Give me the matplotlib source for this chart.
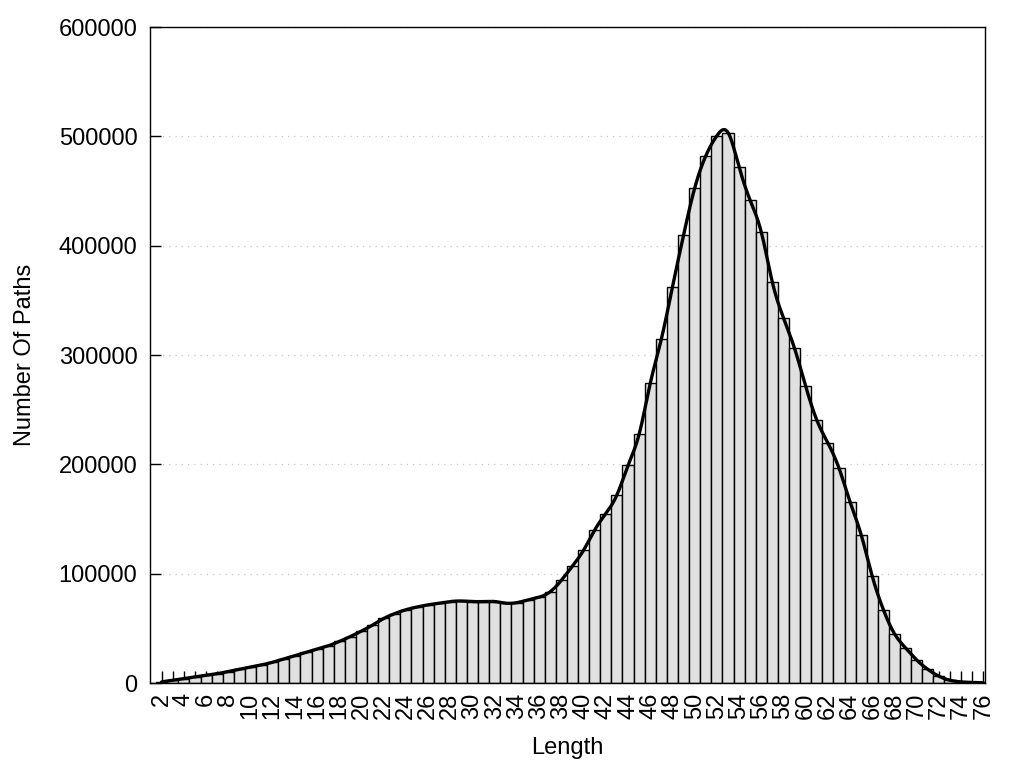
import numpy as np
import matplotlib
matplotlib.use("Agg")
import matplotlib.pyplot as plt
from matplotlib.ticker import FixedLocator

lengths = list(range(2, 77))
counts = [
    1000, 2500, 4000, 5500, 7000, 8500, 10500, 12500, 14500, 16500,      # 2-11
    19000, 22000, 25000, 28000, 31000, 34000, 38000, 42500, 47500, 53000, # 12-21
    59000, 63500, 67000, 69500, 71500, 73000, 74500, 75000, 74500, 74500, # 22-31
    74500, 73000, 73500, 76000, 78500, 83500, 94000, 107000, 121500, 140000, # 32-41
    155000, 172000, 199000, 227500, 274000, 314500, 362000, 409500, 452500, 482000, # 42-51
    500500, 503500, 472000, 441500, 412500, 366500, 334000, 306000, 271500, 240500, # 52-61
    219500, 196500, 165500, 135500, 97500, 67000, 45000, 32000, 21000, 12500, # 62-71
    6200, 2500, 1000, 500, 200,                                            # 72-76
]
x_tick_labels = [str(v) for v in range(2, 77, 2)]

def natural_cubic_spline(x, y, xs):
    x = np.asarray(x, float)
    y = np.asarray(y, float)
    n = len(x)
    h = np.diff(x)
    A = np.zeros((n, n))
    b = np.zeros(n)
    A[0, 0] = 1.0
    A[-1, -1] = 1.0
    for i in range(1, n - 1):
        A[i, i - 1] = h[i - 1]
        A[i, i] = 2 * (h[i - 1] + h[i])
        A[i, i + 1] = h[i]
        b[i] = 3 * ((y[i + 1] - y[i]) / h[i] - (y[i] - y[i - 1]) / h[i - 1])
    c = np.linalg.solve(A, b)
    bb = (y[1:] - y[:-1]) / h - h * (2 * c[:-1] + c[1:]) / 3
    d = (c[1:] - c[:-1]) / (3 * h)
    idx = np.clip(np.searchsorted(x, xs) - 1, 0, n - 2)
    dx = xs - x[idx]
    return y[idx] + bb[idx] * dx + c[idx] * dx ** 2 + d[idx] * dx ** 3

plt.rcParams['font.family'] = ['Liberation Sans', 'DejaVu Sans']

fig = plt.figure(figsize=(10.24, 7.68), dpi=100)
ax = fig.add_axes([150 / 1024, 1 - 683 / 768, 835 / 1024, 656 / 768])

ax.bar(lengths, counts, width=1.0, color='#e0e0e0', edgecolor='black',
       linewidth=1.0, zorder=2)

xs = np.linspace(lengths[0], lengths[-1], 2000)
ys = natural_cubic_spline(lengths, counts, xs)
ax.plot(xs, ys, color='black', linewidth=2.4, zorder=3, solid_capstyle='round')

ax.set_xlim(0.95, 76.15)
ax.set_ylim(0, 600000)

ax.set_xticks(list(range(2, 77, 2)))
ax.set_xticklabels(x_tick_labels, rotation=90)
ax.xaxis.set_minor_locator(FixedLocator(list(range(3, 76, 2))))
ax.set_yticks(list(range(0, 600001, 100000)))

ax.set_axisbelow(True)
ax.grid(axis='y', which='major', color='#c8c8c8', linestyle=(0, (1, 4)), linewidth=0.9)

ax.tick_params(axis='both', which='both', direction='in', labelsize=17,
               colors='black')
ax.tick_params(axis='x', which='both', length=9, width=1.0, pad=7, top=False)
ax.tick_params(axis='y', which='major', length=8, width=1.0, pad=9, right=False)

for s in ax.spines.values():
    s.set_linewidth(1.0)
    s.set_color('black')

ax.set_xlabel('Length', fontsize=17)
ax.set_ylabel('Number Of Paths', fontsize=17)
ax.xaxis.set_label_coords(0.5, -0.083)
ax.xaxis.label.set_va('top')
ax.yaxis.set_label_coords(-0.137, 0.5)

fig.savefig('out.png', dpi=100, facecolor='white')
